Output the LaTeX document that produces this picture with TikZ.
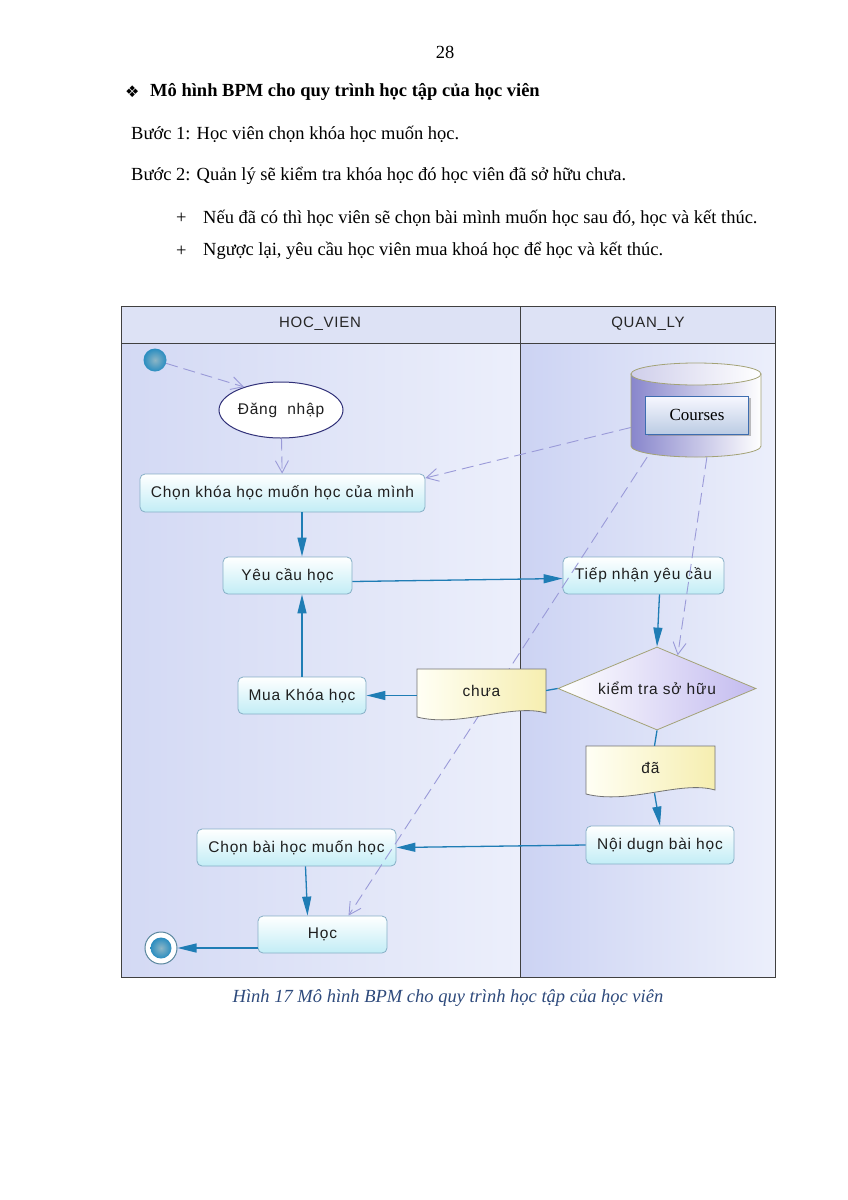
\documentclass[tikz,border=0pt]{standalone}
\usepackage{fontspec}
\setmainfont{Liberation Serif}
\newfontfamily\diagfont[LetterSpace=5]{Liberation Sans}
\newfontfamily\symfont{DejaVu Sans}
\usetikzlibrary{shapes.geometric,arrows.meta,shadows}

\definecolor{lanebg}{HTML}{D3D9F4}
\definecolor{lanedark}{HTML}{CCD3F3}
\definecolor{lanelight}{HTML}{ECEFFB}
\definecolor{headbg}{HTML}{DDE2F5}
\definecolor{flowblue}{HTML}{1F7DB5}
\definecolor{dashlav}{HTML}{9A9AD8}
\definecolor{boxcyan}{HTML}{C2EDF6}
\definecolor{boxedge}{HTML}{86AFC6}
\definecolor{docyellow}{HTML}{F6EEB0}
\definecolor{lavdiam}{HTML}{C3BBEF}
\definecolor{olivegray}{HTML}{A3A276}
\definecolor{dbpurple}{HTML}{8886CC}
\definecolor{dbedge}{HTML}{3E6DB0}
\definecolor{captblue}{HTML}{2E4A7C}
\definecolor{startblue}{HTML}{2A8DC0}
\definecolor{startcore}{HTML}{8DB6C6}
\definecolor{navyedge}{HTML}{303078}

\begin{document}
\begin{tikzpicture}[x=1pt,y=-1pt,
  every node/.style={inner sep=0pt},
  txt/.style={anchor=west,font=\fontsize{18.5}{22}\selectfont},
  act/.style={draw=boxedge,line width=0.8pt,rounded corners=5pt,top color=white,bottom color=boxcyan,
    font=\diagfont\fontsize{15.5}{18}\selectfont,text=black!88},
  docnode/.style={font=\diagfont\fontsize{15.5}{18}\selectfont,text=black!88,minimum width=129pt,minimum height=43pt},
  docshape/.style={draw=black!55,line width=0.8pt,left color=yellow!4,right color=docyellow},
  ball/.style={circle,inner color=startcore,outer color=startblue},
  flow/.style={draw=flowblue,line width=1.3pt,-{Triangle[length=19pt,width=9pt]}},
  plain/.style={draw=flowblue,line width=1.3pt},
  dashlink/.style={draw=dashlav,line width=0.9pt,dash pattern=on 12pt off 6pt,-{Straight Barb[length=12pt,width=13pt]}},
  lanehead/.style={font=\diagfont\fontsize{15}{18}\selectfont,text=black!85}]
\useasboundingbox (0,0) rectangle (848,1200);
\fill[white] (0,0) rectangle (848,1200);

% text above the figure
\node[anchor=center,font=\fontsize{18.5}{22}\selectfont] (page) at (445,52) {28};
\node[txt] (sym) at (125,92) {\symfont\fontsize{16}{18}\selectfont ❖};
\node[txt,font=\bfseries\fontsize{18.5}{22}\selectfont] (title) at (150,92) {Mô hình BPM cho quy trình học tập của học viên};
\node[txt] (step1) at (131,134) {Bước 1: Học viên chọn khóa học muốn học.};
\node[txt] (step2) at (131,176) {Bước 2: Quản lý sẽ kiểm tra khóa học đó học viên đã sở hữu chưa.};
\node[txt] (plus1) at (176,218) {+};
\node[txt] (case1) at (203,218) {Nếu đã có thì học viên sẽ chọn bài mình muốn học sau đó, học và kết thúc.};
\node[txt] (plus2) at (176,251) {+};
\node[txt] (case2) at (203,251) {Ngược lại, yêu cầu học viên mua khoá học để học và kết thúc.};

% lanes
\shade[left color=lanebg,right color=lanelight] (121,343) rectangle (520,977);
\shade[left color=lanedark,right color=lanelight] (520,343) rectangle (775,977);
\fill[headbg] (121,306) rectangle (775,343);
\draw[black!75,line width=0.9pt] (121,306) rectangle (775,977);
\draw[black!75,line width=0.9pt] (121,343) -- (775,343);
\draw[black!75,line width=0.9pt] (520,306) -- (520,977);
\node[lanehead] (hv) at (320,324) {HOC\_VIEN};
\node[lanehead] (ql) at (648,324) {QUAN\_LY};

% database
\shadedraw[draw=olivegray,line width=0.8pt,left color=dbpurple,right color=white]
  (631,374) -- (631,446) arc[start angle=180,end angle=360,x radius=65pt,y radius=11pt] -- (761,374) -- cycle;
\shadedraw[draw=olivegray,line width=0.8pt,left color=dbpurple!40,right color=white]
  (696,374) ellipse[x radius=65pt,y radius=11pt];
\node[minimum width=130pt,minimum height=94pt] (db) at (696,410) {};
\node[draw=dbedge,line width=0.8pt,top color=blue!3,bottom color=dbedge!35,drop shadow,
  minimum width=103pt,minimum height=38pt,font=\fontsize{17}{20}\selectfont] (courses) at (697,415) {Courses};

% nodes
\node[ball,minimum size=23pt] (start) at (155,360) {};
\node[ellipse,draw=navyedge,line width=1pt,fill=white,minimum width=124pt,minimum height=56pt,
  font=\diagfont\fontsize{15.5}{18}\selectfont,text=black!88] (login) at (281,410) {Đăng\ \ nhập};
\node[act,minimum width=285pt,minimum height=38pt] (chonkhoa) at (282.5,493) {Chọn khóa học muốn học của mình};
\node[act,minimum width=129pt,minimum height=37pt] (yeucau) at (287.5,575.5) {Yêu cầu học};
\node[act,minimum width=161pt,minimum height=37pt] (tiepnhan) at (643.5,575.5) {Tiếp nhận yêu cầu};
\node[diamond,aspect=2.4,draw=olivegray,line width=0.8pt,left color=white,right color=lavdiam,
  minimum width=198pt,minimum height=83pt,font=\diagfont\fontsize{15.5}{18}\selectfont,text=black!88] (kiemtra) at (657,688.5) {kiểm tra sở hữu};
\node[act,minimum width=128pt,minimum height=37pt] (muakhoa) at (302,695.5) {Mua Khóa học};
\node[act,minimum width=148pt,minimum height=38pt] (noidung) at (660,845) {Nội dugn bài học};
\node[act,minimum width=199pt,minimum height=37pt] (chonbai) at (296.5,847.5) {Chọn bài học muốn học};
\node[act,minimum width=129pt,minimum height=37pt] (hoc) at (322.5,934.5) {Học};
\node[circle,minimum size=32pt,draw=startblue!45!gray,line width=1pt,fill=white] (endnode) at (161,948) {};
\node[ball,minimum size=21pt] (endcore) at (endnode) {};

% data links
\draw[dashlink] (start) -- (login.148);
\draw[dashlink] (login) -- (chonkhoa);
\draw[dashlink] (db.195) -- (chonkhoa.6);
\draw[dashlink] (db.283) -- (kiemtra.58);
\draw[dashlink] (db.224) -- (hoc.36);

% documents
\shadedraw[docshape] (417,669) -- (546,669) -- (546,713) .. controls (512,703) and (460,728) .. (417,717) -- cycle;
\node[docnode] (chua) at (481.5,690.5) {chưa};
\shadedraw[docshape] (586,746) -- (715,746) -- (715,790) .. controls (681,780) and (629,805) .. (586,794) -- cycle;
\node[docnode] (da) at (650.5,767.5) {đã};

% flow
\draw[flow] (chonkhoa.south -| muakhoa) -- (yeucau.north -| muakhoa);
\draw[flow] ([yshift=-6pt]yeucau.east) -- ([yshift=-3pt]tiepnhan.west);
\draw[flow] ([xshift=16pt]tiepnhan.south) -- (kiemtra.north);
\draw[plain] (kiemtra.west) -- (chua.east);
\draw[flow] (chua.west |- muakhoa.east) -- (muakhoa.east);
\draw[flow] (muakhoa.north) -- (yeucau.south -| muakhoa);
\draw[plain] (kiemtra.south) -- ([xshift=4pt]da.north);
\draw[flow] ([xshift=4pt,yshift=-4pt]da.south) -- (noidung.north);
\draw[flow] (noidung.west) -- (chonbai.east);
\draw[flow] ([xshift=9pt]chonbai.south) -- ([xshift=-15pt]hoc.north);
\draw[flow] (hoc.west |- endnode) -- (endnode);

% caption
\node[font=\itshape\fontsize{18.5}{22}\selectfont,text=captblue] (caption) at (448,998) {Hình 17 Mô hình BPM cho quy trình học tập của học viên};
\end{tikzpicture}
\end{document}
